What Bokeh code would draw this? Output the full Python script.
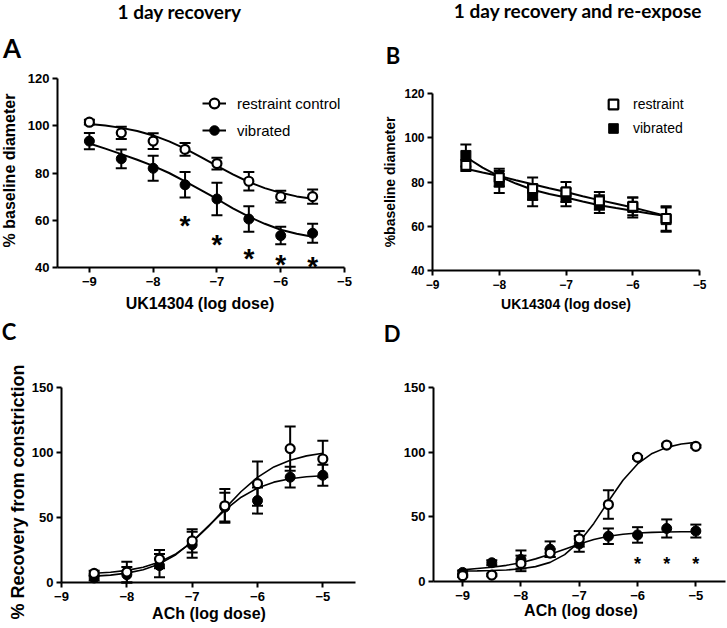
import math
from bokeh.plotting import figure
from bokeh.layouts import column, row
from bokeh.models import (ColumnDataSource, Whisker, TeeHead, Label, Legend,
                          LegendItem, FixedTicker, Range1d)
from bokeh.core.properties import value
from bokeh.embed import file_html
from bokeh.resources import INLINE

# ---------------- data ----------------
# Panel A: 1 day recovery, UK14304
a_x = [-9, -8.5, -8, -7.5, -7, -6.5, -6, -5.5]
a_ctrl = [101.5, 97, 93.5, 90, 84, 76.5, 70, 70]
a_ctrl_err = [1, 2.6, 3.3, 2.7, 2.5, 3.9, 2.5, 3]
a_vib = [93.5, 86, 82, 75, 69, 60.5, 53.5, 54.5]
a_vib_err = [3.4, 4, 5.3, 5.4, 6.9, 5.4, 3.7, 4]
a_fit_x = [-9, -8.75, -8.5, -8.25, -8, -7.75, -7.5, -7.25, -7, -6.75, -6.5, -6.25, -6, -5.75, -5.5]
a_fit_ctrl = [100.7, 100.1, 99.1, 97.8, 95.9, 93.4, 90.3, 86.75, 83.0, 79.4, 76.2, 73.6, 71.6, 70.1, 69.1]
a_fit_vib = [92.5, 90.3, 88, 85.6, 83, 80, 76.5, 72.8, 69, 65, 61.5, 58.5, 56, 54.3, 53]
a_star_x = [-7.5, -7, -6.5, -6, -5.5]
a_star_y = [60.3, 52.3, 46.4, 43.6, 43.1]

# Panel B: 1 day recovery and re-expose, UK14304
b_x = [-8.5, -8, -7.5, -7, -6.5, -6, -5.5]
b_ctrl = [87.5, 82, 77, 75.5, 71.5, 69, 63.5]
b_ctrl_err = [2.5, 4, 5, 4.5, 4, 4, 5.5]
b_vib = [92, 80, 74, 73, 70, 68.5, 63]
b_vib_err = [5, 5, 5, 4, 4, 4.5, 5.5]
b_fit_x = [-8.5, -8.25, -8, -7.75, -7.5, -7.25, -7, -6.75, -6.5, -6.25, -6, -5.75, -5.5]
b_fit_ctrl = [86, 84.3, 82.7, 80.8, 79, 77.2, 75.5, 73.6, 71.8, 70.2, 68.5, 66.6, 64.6]
b_fit_vib = [91.3, 86.5, 82.5, 79.3, 76.5, 74.6, 73, 71.2, 69.5, 68.2, 67, 65.8, 64.6]

# Panel C: 1 day recovery, ACh
c_x = [-8.5, -8, -7.5, -7, -6.5, -6, -5.5, -5]
c_ctrl = [7, 8, 18, 32, 59, 76, 103, 95]
c_ctrl_err = [2, 8, 7, 9, 13, 17, 17, 14]
c_vib = [3.5, 6, 13, 29, 58, 63, 81, 82.5]
c_vib_err = [2, 6, 9, 10, 11, 10, 8, 8]
c_fit_x = [-8.5, -8.25, -8, -7.75, -7.5, -7.25, -7, -6.75, -6.5, -6.25, -6, -5.75, -5.5, -5.25, -5]
c_fit_ctrl = [7.1, 7.9, 9.3, 11.7, 15.7, 22, 31.1, 43.1, 56.8, 70, 80.9, 88.9, 94.1, 97.4, 99.4]
c_fit_vib = [4.9, 5.7, 7.2, 9.8, 14.3, 21.4, 31.4, 43.5, 55.6, 65.6, 72.7, 77.2, 79.8, 81.3, 82.1]

# Panel D: 1 day recovery and re-expose, ACh
d_x = [-9, -8.5, -8, -7.5, -7, -6.5, -6, -5.5, -5]
d_ctrl = [4.5, 5, 14, 22, 33, 59.5, 96, 105.5, 104.5]
d_ctrl_err = [1, 1, 6, 3, 6, 11, 1, 1, 1]
d_vib = [7, 14.5, 17, 25, 29, 35, 36, 41, 39]
d_vib_err = [1.5, 2, 7, 6, 6, 6, 6, 7, 5]
d_fit_x = [-9, -8.75, -8.5, -8.25, -8, -7.75, -7.5, -7.25, -7, -6.75, -6.5, -6.25, -6, -5.75, -5.5, -5.25, -5]
d_fit_ctrl = [8.1, 8.2, 8.5, 8.9, 9.8, 11.5, 14.8, 20.75, 30.6, 44.9, 62, 78.3, 90.9, 99, 103.7, 106.3, 107.6]
d_fit_vib = [9, 10, 11, 12.5, 14.5, 17.5, 21, 25, 29, 32.5, 35, 36.5, 37.5, 38, 38.3, 38.5, 38.5]
d_star_x = [-6, -5.5, -5]
d_star_y = [17, 16.5, 16.5]

x_ticks = [-9, -8, -7, -6, -5]
ab_y_ticks = [40, 60, 80, 100, 120]
cd_y_ticks = [0, 50, 100, 150]

AX_FONT = "Liberation Sans"
TITLE_FONT = "Lato"


class Panel:
    """A figure whose plotting frame fills the whole canvas; the axes are
    drawn at fixed data locations so that every text can live inside it."""

    def __init__(self, left, top, w, h, frame, xb, yb, yt, tick_px):
        fl, fr, ft, fb = frame
        x0, x1 = xb
        y0, y1 = yb
        sx = (fr - fl) / (x1 - x0)
        sy = (fb - ft) / (y1 - y0)
        xr = Range1d(x0 - (fl - left) / sx, x1 + (left + w - fr) / sx)
        yr = Range1d(y0 - (top + h - fb) / sy, y1 + (ft - top) / sy)
        p = figure(width=w, height=h, x_range=xr, y_range=yr,
                   output_backend="svg", toolbar_location=None,
                   min_border=0, min_border_left=0, min_border_right=0,
                   min_border_top=0, min_border_bottom=0)
        p.outline_line_color = None
        p.grid.visible = False
        p.background_fill_color = "white"
        p.border_fill_color = "white"
        for ax in (p.xaxis[0], p.yaxis[0]):
            ax.axis_line_width = 2
            ax.axis_line_color = "black"
            ax.major_tick_line_width = 2
            ax.major_tick_line_color = "black"
            ax.major_tick_out = 5
            ax.major_tick_in = 0
            ax.minor_tick_line_color = None
            ax.major_label_text_font = AX_FONT
            ax.major_label_text_font_style = "bold"
            ax.major_label_text_font_size = f"{tick_px}px"
            ax.major_label_text_color = "black"
        xa, ya = p.xaxis[0], p.yaxis[0]
        xa.ticker = FixedTicker(ticks=x_ticks)
        xa.major_label_overrides = {t: "\u2212" + str(abs(t)) for t in x_ticks}
        xa.major_label_standoff = 4
        xa.fixed_location = y0
        xa.bounds = (x0, x1)
        ya.ticker = FixedTicker(ticks=yt)
        ya.major_label_standoff = 3
        ya.fixed_location = x0
        ya.bounds = (y0, y1)
        self.p = p
        self.left, self.top, self.h = left, top, h

    def text(self, px, py, text, size, font=AX_FONT, angle=0.0):
        # px, py: page position of the text centre
        self.p.add_layout(Label(x=px - self.left, y=self.top + self.h - py,
                                x_units="screen", y_units="screen", text=text,
                                text_font=font, text_font_size=f"{size}px",
                                text_font_style="bold", text_color="black",
                                text_align="center", text_baseline="middle",
                                angle=angle))

    def legend(self, items, gx, gbottom, **kw):
        leg = Legend(items=items, location=(gx - self.left, self.top + self.h - gbottom),
                     orientation="vertical", glyph_width=24, glyph_height=24,
                     label_height=24, padding=0, margin=0,
                     border_line_color=None, background_fill_alpha=0,
                     label_text_font=AX_FONT, label_text_color="black", **kw)
        self.p.add_layout(leg)


def errbars(p, xs, ys, es, cap=11):
    src = ColumnDataSource(dict(x=xs, up=[y + e for y, e in zip(ys, es)],
                                lo=[y - e for y, e in zip(ys, es)]))
    w = Whisker(base="x", upper="up", lower="lo", source=src, dimension="height",
                line_width=2, line_color="black", level="underlay",
                upper_head=TeeHead(size=cap, line_width=2, line_color="black"),
                lower_head=TeeHead(size=cap, line_width=2, line_color="black"))
    p.add_layout(w)


def open_pts(p, xs, ys, marker="circle", size=9):
    return p.scatter(xs, ys, marker=marker, size=size, fill_color="white",
                     line_color="black", line_width=2.2)


def filled_pts(p, xs, ys, marker="circle", size=10):
    return p.scatter(xs, ys, marker=marker, size=size, fill_color="black",
                     line_color="black", line_width=1)


def stars(p, xs, ys, size, dy):
    p.text(x=xs, y=ys, text=["*"] * len(xs), text_font=value(AX_FONT),
           text_font_style="bold", text_font_size=f"{size}px", text_align="center",
           text_baseline="middle", y_offset=dy, text_color="black")


# ---------------- Panel A ----------------
A = Panel(0, 0, 376, 318, (57, 344, 78, 267), (-9.5, -5), (40, 120), ab_y_ticks, 13)
pa = A.p
la_c = pa.line(a_fit_x, a_fit_ctrl, line_width=2, line_color="black")
la_v = pa.line(a_fit_x, a_fit_vib, line_width=2, line_color="black")
errbars(pa, a_x, a_ctrl, a_ctrl_err)
errbars(pa, a_x, a_vib, a_vib_err)
sa_v = filled_pts(pa, a_x, a_vib)
sa_c = open_pts(pa, a_x, a_ctrl)
stars(pa, a_star_x, a_star_y, 28, 6)
A.legend([LegendItem(label="restraint control", renderers=[la_c, sa_c]),
          LegendItem(label="vibrated", renderers=[la_v, sa_v])],
         202, 142, spacing=3, label_standoff=11, label_text_font_size="15px")
A.text(179, 11, "1 day recovery", 19, font=TITLE_FONT)
A.text(11.5, 47.5, "A", 26, font=TITLE_FONT)
A.text(9, 170, "% baseline diameter", 16, angle=math.pi / 2)
A.text(199.5, 303, "UK14304 (log dose)", 16)

# ---------------- Panel B ----------------
B = Panel(376, 0, 351, 318, (432, 699, 93, 270), (-9, -5), (40, 120), ab_y_ticks, 12)
pb = B.p
pb.line(b_fit_x, b_fit_ctrl, line_width=2, line_color="black")
pb.line(b_fit_x, b_fit_vib, line_width=2, line_color="black")
errbars(pb, b_x, b_ctrl, b_ctrl_err)
errbars(pb, b_x, b_vib, b_vib_err)
sb_v = filled_pts(pb, b_x, b_vib, marker="square")
sb_c = open_pts(pb, b_x, b_ctrl, marker="square", size=9)
B.legend([LegendItem(label="restraint", renderers=[sb_c]),
          LegendItem(label="vibrated", renderers=[sb_v])],
         601, 140, spacing=-4, label_standoff=8, label_text_font_size="14px")
B.text(577.6, 10, "1 day recovery and re-expose", 19, font=TITLE_FONT)
B.text(392.5, 54.5, "B", 22, font=TITLE_FONT)
B.text(389, 181.5, "%baseline diameter", 14, angle=math.pi / 2)
B.text(565.5, 303, "UK14304 (log dose)", 14)

# ---------------- Panel C ----------------
C = Panel(0, 318, 376, 304, (61, 355, 387, 582), (-9, -4.5), (0, 150), cd_y_ticks, 13)
pc = C.p
pc.line(c_fit_x, c_fit_ctrl, line_width=1.6, line_color="black")
pc.line(c_fit_x, c_fit_vib, line_width=1.6, line_color="black")
errbars(pc, c_x, c_ctrl, c_ctrl_err)
errbars(pc, c_x, c_vib, c_vib_err)
filled_pts(pc, c_x, c_vib)
open_pts(pc, c_x, c_ctrl)
C.text(8.5, 330.5, "C", 22, font=TITLE_FONT)
C.text(17.5, 491.5, "% Recovery from constriction", 18, angle=math.pi / 2)
C.text(208.5, 613, "ACh (log dose)", 16)

# ---------------- Panel D ----------------
D = Panel(376, 318, 351, 304, (433, 724.5, 387, 581), (-9.5, -4.5), (0, 150), cd_y_ticks, 13)
pd_ = D.p
pd_.line(d_fit_x, d_fit_ctrl, line_width=1.6, line_color="black")
pd_.line(d_fit_x, d_fit_vib, line_width=1.6, line_color="black")
errbars(pd_, d_x, d_ctrl, d_ctrl_err)
errbars(pd_, d_x, d_vib, d_vib_err)
filled_pts(pd_, d_x, d_vib)
open_pts(pd_, d_x, d_ctrl)
stars(pd_, d_star_x, d_star_y, 18, 4)
D.text(391.5, 332.5, "D", 22, font=TITLE_FONT)
D.text(580.5, 610, "ACh (log dose)", 16)

layout = column(row(pa, pb), row(pc, pd_))
open("out.html", "w").write(file_html(layout, INLINE))
